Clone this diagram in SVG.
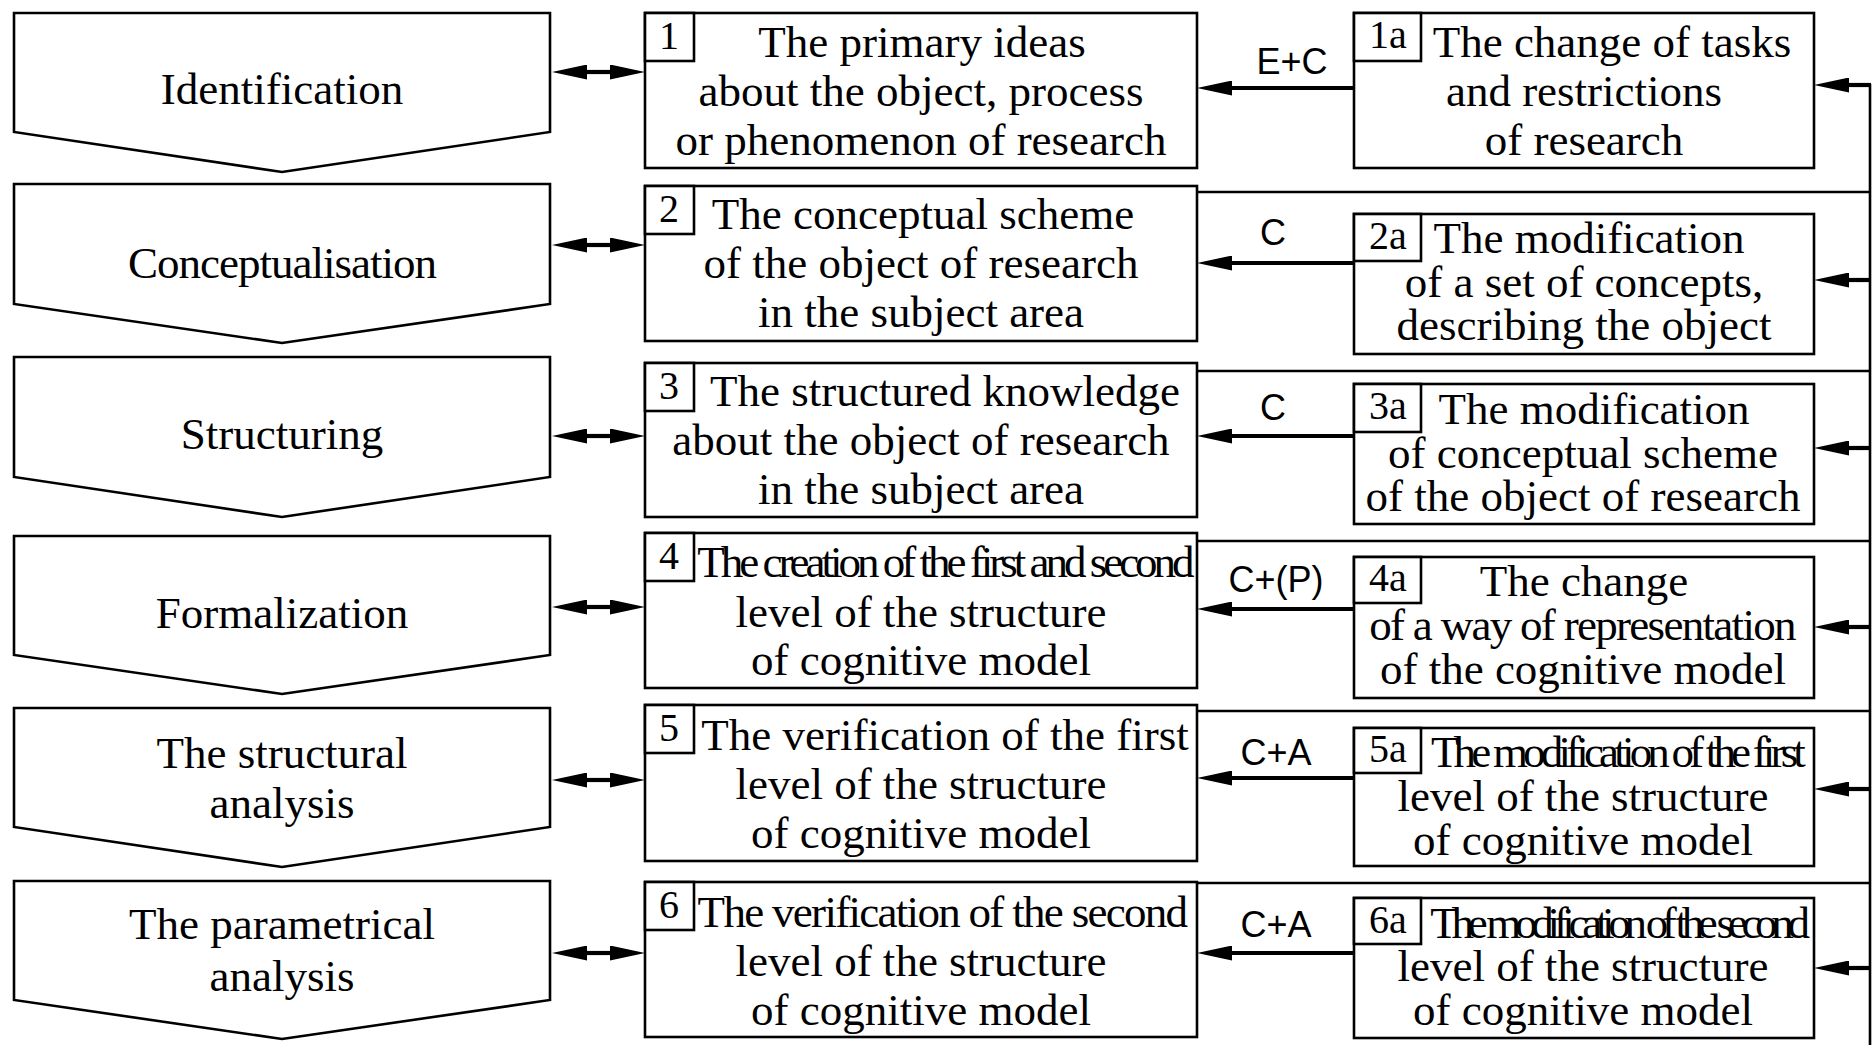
<svg xmlns="http://www.w3.org/2000/svg" width="1874" height="1045" viewBox="0 0 1874 1045">
<style>
.shape{fill:#fff;stroke:#000;stroke-width:2.6}
.t{font-family:"Liberation Serif","Times New Roman",serif;font-size:45px;fill:#000;text-anchor:middle}
.n{font-family:"Liberation Serif","Times New Roman",serif;font-size:40px;fill:#000;text-anchor:middle}
.lbl{font-family:"Liberation Sans",Arial,sans-serif;font-size:36px;fill:#000;text-anchor:middle}
.thin{fill:none;stroke:#000;stroke-width:2.6}
.arr{fill:none;stroke:#000;stroke-width:4.2}
</style>
<defs>
<marker id="ah" viewBox="0 0 35 15" refX="0" refY="7.5" markerWidth="35" markerHeight="15" markerUnits="userSpaceOnUse" orient="auto-start-reverse"><path d="M0,0 L35,7.5 L0,15 Z" fill="#000"/></marker>
</defs>
<rect width="1874" height="1045" fill="#fff"/>

<g id="stage-identification">
<path class="shape" d="M14,13 H550 V132 L282,172 L14,132 Z"/>
<text class="t" x="282" y="104">Identification</text>
</g>
<g id="stage-conceptualisation">
<path class="shape" d="M14,184 H550 V304 L282,343 L14,304 Z"/>
<text class="t" x="282" y="278" letter-spacing="-1">Conceptualisation</text>
</g>
<g id="stage-structuring">
<path class="shape" d="M14,357 H550 V477 L282,517 L14,477 Z"/>
<text class="t" x="282" y="449">Structuring</text>
</g>
<g id="stage-formalization">
<path class="shape" d="M14,536 H550 V655 L282,694 L14,655 Z"/>
<text class="t" x="282" y="628">Formalization</text>
</g>
<g id="stage-structural">
<path class="shape" d="M14,708 H550 V827 L282,867 L14,827 Z"/>
<text class="t" x="282" y="768">The structural</text>
<text class="t" x="282" y="818">analysis</text>
</g>
<g id="stage-parametrical">
<path class="shape" d="M14,881 H550 V1000 L282,1039 L14,1000 Z"/>
<text class="t" x="282" y="939">The parametrical</text>
<text class="t" x="282" y="991">analysis</text>
</g>

<g id="box1">
<rect class="shape" x="645" y="13" width="552" height="155"/>
<rect class="shape" x="645" y="13" width="49" height="48"/>
<text class="n" x="669" y="49">1</text>
<text class="t" x="922" y="57">The primary ideas</text>
<text class="t" x="921" y="106">about the object, process</text>
<text class="t" x="921" y="155">or phenomenon of research</text>
</g>
<g id="box2">
<rect class="shape" x="645" y="186" width="552" height="155"/>
<rect class="shape" x="645" y="186" width="49" height="48"/>
<text class="n" x="669" y="222">2</text>
<text class="t" x="923" y="229">The conceptual scheme</text>
<text class="t" x="921" y="278">of the object of research</text>
<text class="t" x="921" y="327">in the subject area</text>
</g>
<g id="box3">
<rect class="shape" x="645" y="363" width="552" height="154"/>
<rect class="shape" x="645" y="363" width="49" height="48"/>
<text class="n" x="669" y="399">3</text>
<text class="t" x="945" y="406">The structured knowledge</text>
<text class="t" x="921" y="455">about the object of research</text>
<text class="t" x="921" y="504">in the subject area</text>
</g>
<g id="box4">
<rect class="shape" x="645" y="533" width="552" height="155"/>
<rect class="shape" x="645" y="533" width="49" height="48"/>
<text class="n" x="669" y="569">4</text>
<text class="t" x="944" y="577" letter-spacing="-4">The creation of the first and second</text>
<text class="t" x="921" y="627">level of the structure</text>
<text class="t" x="921" y="675">of cognitive model</text>
</g>
<g id="box5">
<rect class="shape" x="645" y="705" width="552" height="156"/>
<rect class="shape" x="645" y="705" width="49" height="48"/>
<text class="n" x="669" y="741">5</text>
<text class="t" x="945" y="750">The verification of the first</text>
<text class="t" x="921" y="799">level of the structure</text>
<text class="t" x="921" y="848">of cognitive model</text>
</g>
<g id="box6">
<rect class="shape" x="645" y="882" width="552" height="155"/>
<rect class="shape" x="645" y="882" width="49" height="48"/>
<text class="n" x="669" y="918">6</text>
<text class="t" x="942" y="927" letter-spacing="-1.7">The verification of the second</text>
<text class="t" x="921" y="976">level of the structure</text>
<text class="t" x="921" y="1025">of cognitive model</text>
</g>

<g id="box1a">
<rect class="shape" x="1354" y="13" width="460" height="155"/>
<rect class="shape" x="1354" y="13" width="67" height="48"/>
<text class="n" x="1388" y="48">1a</text>
<text class="t" x="1612" y="57">The change of tasks</text>
<text class="t" x="1584" y="106">and restrictions</text>
<text class="t" x="1584" y="155">of research</text>
</g>
<g id="box2a">
<rect class="shape" x="1354" y="214" width="460" height="140"/>
<rect class="shape" x="1354" y="214" width="67" height="47"/>
<text class="n" x="1388" y="249">2a</text>
<text class="t" x="1589" y="253">The modification</text>
<text class="t" x="1584" y="297">of a set of concepts,</text>
<text class="t" x="1584" y="340">describing the object</text>
</g>
<g id="box3a">
<rect class="shape" x="1354" y="384" width="460" height="140"/>
<rect class="shape" x="1354" y="384" width="67" height="48"/>
<text class="n" x="1388" y="419">3a</text>
<text class="t" x="1594" y="424">The modification</text>
<text class="t" x="1583" y="468">of conceptual scheme</text>
<text class="t" x="1583" y="511">of the object of research</text>
</g>
<g id="box4a">
<rect class="shape" x="1354" y="557" width="460" height="141"/>
<rect class="shape" x="1354" y="557" width="67" height="46"/>
<text class="n" x="1388" y="591">4a</text>
<text class="t" x="1584" y="596">The change</text>
<text class="t" x="1582" y="640" letter-spacing="-1.7">of a way of representation</text>
<text class="t" x="1583" y="684">of the cognitive model</text>
</g>
<g id="box5a">
<rect class="shape" x="1354" y="728" width="460" height="138"/>
<rect class="shape" x="1354" y="728" width="67" height="45"/>
<text class="n" x="1388" y="762">5a</text>
<text class="t" x="1616" y="767" letter-spacing="-4.82">The modification of the first</text>
<text class="t" x="1583" y="811">level of the structure</text>
<text class="t" x="1583" y="855">of cognitive model</text>
</g>
<g id="box6a">
<rect class="shape" x="1354" y="898" width="460" height="140"/>
<rect class="shape" x="1354" y="898" width="67" height="46"/>
<text class="n" x="1388" y="933">6a</text>
<text class="t" x="1617" y="938" letter-spacing="-6.3">The modification of the second</text>
<text class="t" x="1583" y="981">level of the structure</text>
<text class="t" x="1583" y="1025">of cognitive model</text>
</g>

<g id="connectors">
<line class="arr" x1="587" y1="72" x2="610" y2="72" marker-start="url(#ah)" marker-end="url(#ah)"/>
<line class="arr" x1="587" y1="245" x2="610" y2="245" marker-start="url(#ah)" marker-end="url(#ah)"/>
<line class="arr" x1="587" y1="436" x2="610" y2="436" marker-start="url(#ah)" marker-end="url(#ah)"/>
<line class="arr" x1="587" y1="607" x2="610" y2="607" marker-start="url(#ah)" marker-end="url(#ah)"/>
<line class="arr" x1="587" y1="780" x2="610" y2="780" marker-start="url(#ah)" marker-end="url(#ah)"/>
<line class="arr" x1="587" y1="953" x2="610" y2="953" marker-start="url(#ah)" marker-end="url(#ah)"/>
<line class="arr" x1="1354" y1="88" x2="1232" y2="88" marker-end="url(#ah)"/>
<line class="arr" x1="1354" y1="263" x2="1232" y2="263" marker-end="url(#ah)"/>
<line class="arr" x1="1354" y1="436" x2="1232" y2="436" marker-end="url(#ah)"/>
<line class="arr" x1="1354" y1="609" x2="1232" y2="609" marker-end="url(#ah)"/>
<line class="arr" x1="1354" y1="778" x2="1232" y2="778" marker-end="url(#ah)"/>
<line class="arr" x1="1354" y1="953" x2="1232" y2="953" marker-end="url(#ah)"/>
<text class="lbl" x="1292" y="74">E+C</text>
<text class="lbl" x="1273" y="245">C</text>
<text class="lbl" x="1273" y="420">C</text>
<text class="lbl" x="1276" y="592">C+(P)</text>
<text class="lbl" x="1276" y="765">C+A</text>
<text class="lbl" x="1276" y="937">C+A</text>
<line class="thin" x1="1870" y1="84" x2="1870" y2="1045"/>
<line class="thin" x1="1197" y1="192" x2="1870" y2="192"/>
<line class="thin" x1="1197" y1="371" x2="1870" y2="371"/>
<line class="thin" x1="1197" y1="541" x2="1870" y2="541"/>
<line class="thin" x1="1197" y1="711" x2="1870" y2="711"/>
<line class="thin" x1="1197" y1="883" x2="1870" y2="883"/>
<line class="arr" x1="1871" y1="85" x2="1849" y2="85" marker-end="url(#ah)"/>
<line class="arr" x1="1870" y1="280" x2="1849" y2="280" marker-end="url(#ah)"/>
<line class="arr" x1="1870" y1="448" x2="1849" y2="448" marker-end="url(#ah)"/>
<line class="arr" x1="1870" y1="627" x2="1849" y2="627" marker-end="url(#ah)"/>
<line class="arr" x1="1870" y1="789" x2="1849" y2="789" marker-end="url(#ah)"/>
<line class="arr" x1="1870" y1="968" x2="1849" y2="968" marker-end="url(#ah)"/>
</g>
</svg>
